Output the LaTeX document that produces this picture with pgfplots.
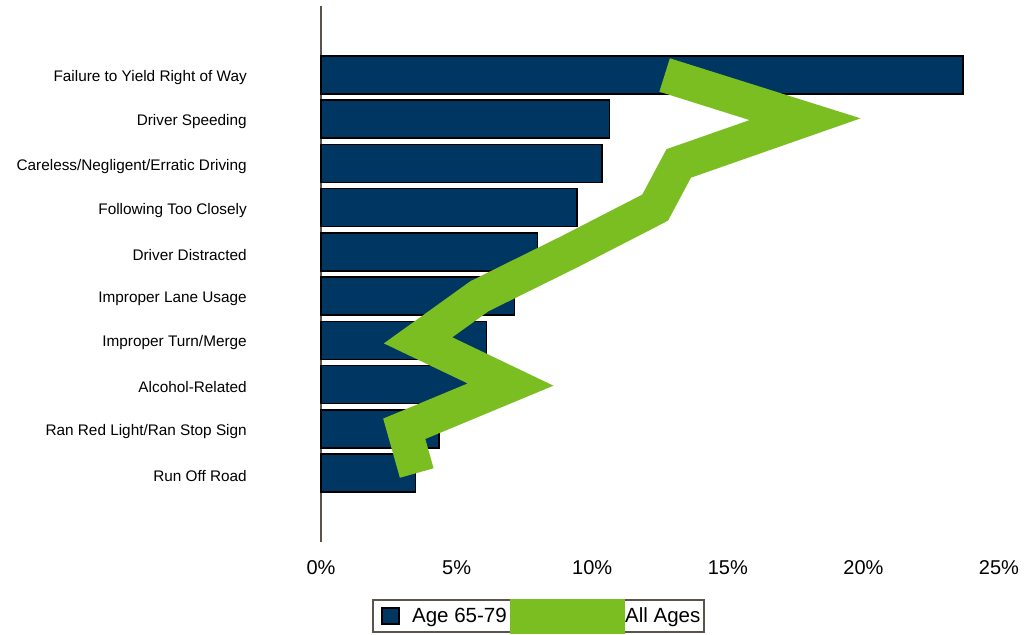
\documentclass[border=0pt]{standalone}
\usepackage{fontspec}
\setmainfont{Liberation Sans}
\usepackage{pgfplots}
\pgfplotsset{compat=1.18}
\definecolor{navy}{RGB}{0,54,98}
\definecolor{lgreen}{RGB}{122,190,34}
\definecolor{axgray}{RGB}{90,84,74}
\begin{document}
\begin{tikzpicture}
\begin{axis}[
  scale only axis, width=508.5pt, height=402pt,
  xmin=0, xmax=25, ymin=-1.56, ymax=10.56, y dir=reverse,
  axis x line*=bottom, axis y line*=left,
  x axis line style={draw=none},
  y axis line style={-, draw=axgray, line width=1.5pt},
  xtick={0,5,10,15,20,25},
  xticklabels={0\%,5\%,10\%,15\%,20\%,25\%},
  ytick={0,1,2,3,4,5,6,7,8,9},
  yticklabels={Failure to Yield Right of Way,Driver Speeding,Careless/Negligent/Erratic Driving,Following Too Closely,Driver Distracted,Improper Lane Usage,Improper Turn/Merge,Alcohol-Related,Ran Red Light/Ran Stop Sign,Run Off Road},
  major tick length=0pt,
  tick style={draw=none},
  xticklabel style={font=\fontsize{15}{18}\selectfont, inner ysep=0pt, yshift=-13.5pt},
  yticklabel style={font=\fontsize{11.5}{13}\selectfont, inner xsep=0pt, xshift=-55.5pt, yshift=-2pt},
  clip=false,
  legend columns=2,
  legend style={at={(0.3206,-0.1386)}, anchor=center, draw=axgray, line width=1.5pt,
    inner xsep=2.5pt, inner ysep=0pt, font=\fontsize{15.4}{18}\selectfont,
    /tikz/column sep=0pt, /tikz/row sep=0pt, nodes={inner sep=0pt}},
]
\addplot[xbar, bar width=28.5pt, fill=navy, draw=black, line width=1.2pt,
  legend image code/.code={%
    \path[draw=none, fill=none] (0pt,-12pt) rectangle (26.8pt,12pt);
    \path[draw=black, fill=navy, line width=1.5pt] (4.3pt,-6.1pt) rectangle (16.7pt,6.1pt);}]
coordinates {(23.67,0) (10.64,1) (10.36,2) (9.45,3) (7.99,4) (7.14,5) (6.10,6) (5.6,7) (4.36,8) (3.49,9)};
\addlegendentry{Age 65-79}
\addplot[lgreen, line width=26.25pt, line join=miter, line cap=butt, mark=none,
  legend image code/.code={%
    \path[draw=none, fill=none] (0pt,-12pt) rectangle (88.7pt,12pt);
    \path[overlay, draw=lgreen, line width=26.25pt, line cap=butt] (2.5pt,0pt) -- (88.7pt,0pt);}]
coordinates {(12.67,0) (17.85,1) (13.19,2) (12.32,3) (9.15,4) (5.85,5) (3.58,6) (6.99,7) (3.07,8) (3.53,9)};
\addlegendentry{All Ages}
\end{axis}
\pgfresetboundingbox
\path[use as bounding box] (-240.75pt,-69.75pt) rectangle (530.25pt,406.5pt);
\end{tikzpicture}
\end{document}
